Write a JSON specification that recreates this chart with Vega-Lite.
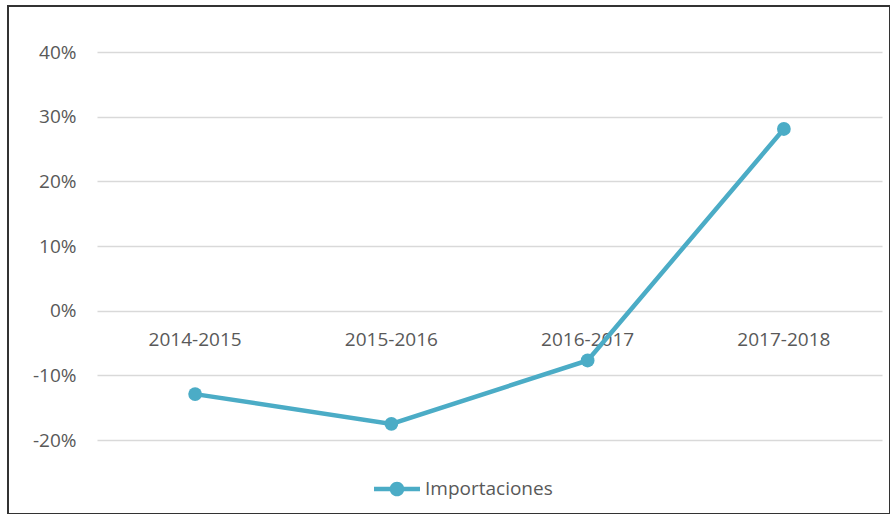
{
  "$schema": "https://vega.github.io/schema/vega-lite/v6.json",
  "autosize": {"type": "none"},
  "padding": {"left": 8, "top": 6, "right": 0, "bottom": 0},
  "width": 882,
  "height": 508,
  "background": "white",
  "config": {
    "view": {"stroke": "#333333", "strokeWidth": 2},
    "font": "Open Sans"
  },
  "data": {
    "values": [
      {"periodo": "2014-2015", "variacion": -0.129, "serie": "Importaciones"},
      {"periodo": "2015-2016", "variacion": -0.175, "serie": "Importaciones"},
      {"periodo": "2016-2017", "variacion": -0.077, "serie": "Importaciones"},
      {"periodo": "2017-2018", "variacion": 0.281, "serie": "Importaciones"}
    ]
  },
  "encoding": {
    "x": {
      "field": "periodo",
      "type": "nominal",
      "sort": null,
      "scale": {"type": "band", "range": [89, 874], "paddingInner": 0, "paddingOuter": 0},
      "axis": {
        "title": null,
        "orient": "bottom",
        "offset": -203,
        "domain": false,
        "ticks": false,
        "grid": false,
        "labelAngle": 0,
        "labelPadding": 19,
        "labelFont": "Open Sans",
        "labelFontSize": 19,
        "labelColor": "#595959"
      }
    },
    "y": {
      "field": "variacion",
      "type": "quantitative",
      "scale": {"domain": [-0.3144, 0.4712], "nice": false, "zero": false},
      "axis": {
        "title": null,
        "values": [-0.2, -0.1, 0, 0.1, 0.2, 0.3, 0.4],
        "format": ".0%",
        "labelExpr": "replace(datum.label, '\u2212', '-')",
        "offset": -68,
        "domain": false,
        "ticks": false,
        "labelPadding": 0,
        "labelFont": "Open Sans",
        "labelFontSize": 19,
        "labelColor": "#595959",
        "grid": true,
        "gridColor": "#d9d9d9",
        "gridWidth": 1.5
      }
    },
    "color": {
      "field": "serie",
      "type": "nominal",
      "scale": {"range": ["#4BACC6"]},
      "legend": {
        "title": null,
        "orient": "none",
        "legendX": 366,
        "legendY": 460,
        "padding": 0,
        "symbolType": "M-1,-0.095H1V0.095H-1Z M-0.32,0A0.32,0.32,0,1,1,0.32,0A0.32,0.32,0,1,1,-0.32,0Z",
        "symbolSize": 2116,
        "symbolStrokeWidth": 0,
        "labelFont": "Open Sans",
        "labelFontSize": 19,
        "labelColor": "#595959",
        "labelOffset": 5,
        "encode": {"symbols": {"update": {"fill": {"value": "#4BACC6"}, "strokeWidth": {"value": 0}}}}
      }
    }
  },
  "layer": [
    {"mark": {"type": "line", "strokeWidth": 4.5}},
    {"mark": {"type": "point", "filled": true, "opacity": 1, "size": 190, "shape": "circle"}}
  ]
}
